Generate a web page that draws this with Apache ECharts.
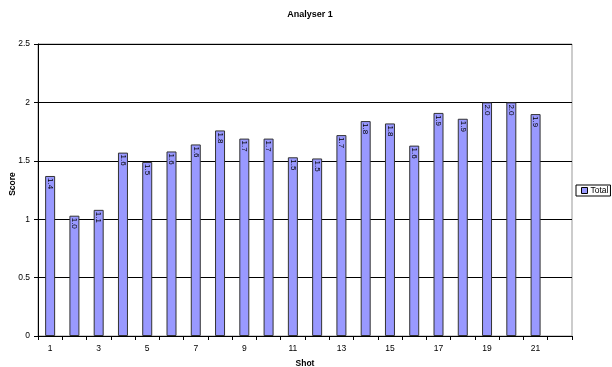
<!DOCTYPE html>
<html>
<head>
<meta charset="utf-8">
<script src="https://cdn.jsdelivr.net/npm/echarts@6/dist/echarts.min.js"></script>
<style>
  html, body { margin: 0; padding: 0; background: #fff; }
  #chart { width: 612px; height: 367px; }
</style>
</head>
<body>
<div id="chart"></div>
<script>
// Shot numbers along the x axis (22 slots, the last one empty)
const shots = ['1','2','3','4','5','6','7','8','9','10','11','12','13','14','15','16','17','18','19','20','21','22'];
// Total score per shot
const totals = [1.37, 1.03, 1.08, 1.57, 1.49, 1.58, 1.64, 1.76, 1.69, 1.69, 1.53, 1.52, 1.72, 1.84, 1.82, 1.63, 1.91, 1.86, 2.0, 2.0, 1.9];
const seriesName = 'Total';

const font = '"Liberation Sans", Arial, sans-serif';
const chart = echarts.init(document.getElementById('chart'), null, { renderer: 'canvas' });

chart.setOption({
  animation: false,
  backgroundColor: '#fff',
  textStyle: { fontFamily: font },
  title: {
    text: 'Analyser 1',
    left: 305,
    top: 5,
    textAlign: 'center',
    textStyle: { fontFamily: font, fontSize: 9, fontWeight: 'bold', color: '#000' }
  },
  legend: {
    data: [seriesName],
    orient: 'vertical',
    left: 576,
    top: 185,
    padding: [1, 2, 1, 5],
    borderColor: '#000',
    borderWidth: 1,
    icon: 'rect',
    itemWidth: 6,
    itemHeight: 6,
    itemGap: 0,
    itemStyle: { color: '#9999FF', borderColor: '#000', borderWidth: 1 },
    textStyle: { fontFamily: font, fontSize: 8.5, color: '#000', padding: [0, 0, 0, -2] }
  },
  grid: {
    left: 38,
    right: 40,
    top: 44,
    bottom: 31,
    containLabel: false,
    outerBoundsMode: 'none',
    show: true,
    borderColor: '#999',
    borderWidth: 1,
    backgroundColor: '#fff'
  },
  xAxis: {
    type: 'category',
    data: shots,
    name: 'Shot',
    nameLocation: 'middle',
    nameGap: 23,
    nameMoveOverlap: false,
    nameTextStyle: { fontFamily: font, fontSize: 8.5, fontWeight: 'bold', color: '#000' },
    axisLine: { lineStyle: { color: '#000', width: 1 } },
    axisTick: { show: true, interval: 0, length: 4, lineStyle: { color: '#000' } },
    axisLabel: { interval: 1, fontSize: 8.5, color: '#000', margin: 8, fontFamily: font }
  },
  yAxis: {
    type: 'value',
    min: 0,
    max: 2.5,
    interval: 0.5,
    name: 'Score',
    nameLocation: 'middle',
    nameGap: 21,
    nameRotate: 90,
    nameMoveOverlap: false,
    nameTextStyle: { fontFamily: font, fontSize: 8.5, fontWeight: 'bold', color: '#000', padding: [0, 0, 0, 12] },
    axisLine: { show: true, lineStyle: { color: '#000', width: 1 } },
    axisTick: { show: true, length: 4, lineStyle: { color: '#000' } },
    axisLabel: { fontSize: 8.5, color: '#000', margin: 8, fontFamily: font },
    splitLine: { show: true, lineStyle: { color: '#000', width: 1 } }
  },
  series: [{
    name: seriesName,
    type: 'bar',
    data: totals,
    barWidth: 10,
    itemStyle: { color: '#9999FF', borderColor: '#333', borderWidth: 1 },
    label: {
      show: true,
      position: 'insideTop',
      distance: 2,
      rotate: -90,
      align: 'left',
      verticalAlign: 'middle',
      fontSize: 8,
      color: '#000',
      fontFamily: font,
      formatter: p => p.value.toFixed(1)
    }
  }]
});
</script>
</body>
</html>
